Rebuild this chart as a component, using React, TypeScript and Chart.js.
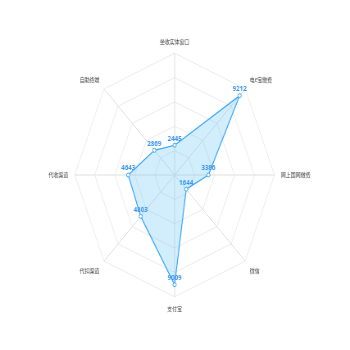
import React, { useEffect, useRef } from "react";
import { Chart, registerables } from "chart.js";

Chart.register(...registerables);

const categories = ["坐收实体窗口", "电e宝缴费", "网上国网缴费", "微信", "支付宝", "代扣渠道", "代收渠道", "自助终端"];
const values = [2445, 9212, 3386, 1644, 9009, 4803, 4643, 2869];
const scaleMin = 0;
const scaleMax = 10000;
const scaleStep = 2000;

const LINE = "#3aa6f7";

const valueLabelPlugin = {
  id: "valueLabels",
  afterDatasetsDraw(chart: any) {
    const ctx = chart.ctx;
    const meta = chart.getDatasetMeta(0);
    ctx.save();
    ctx.font = "bold 7.5px 'Noto Sans', 'DejaVu Sans', sans-serif";
    ctx.fillStyle = "#3b94f2";
    ctx.textAlign = "center";
    ctx.textBaseline = "bottom";
    meta.data.forEach((pt: any, i: number) => {
      ctx.fillText(String(values[i]), pt.x, pt.y - 3);
    });
    ctx.restore();
  },
};

export default function App() {
  const ref = useRef<HTMLCanvasElement | null>(null);
  useEffect(() => {
    if (!ref.current) return;
    const chart = new Chart(ref.current, {
      type: "radar",
      data: {
        labels: categories,
        datasets: [
          {
            data: values,
            borderColor: LINE,
            borderWidth: 1.2,
            backgroundColor: "rgba(90,190,245,0.27)",
            fill: true,
            pointRadius: 2,
            pointBorderWidth: 1,
            pointBackgroundColor: "#ffffff",
            pointBorderColor: LINE,
          },
        ],
      },
      options: {
        responsive: false,
        maintainAspectRatio: false,
        devicePixelRatio: 1,
        animation: false,
        layout: { padding: { top: 38, bottom: 38, left: 10, right: 10 } },
        plugins: { legend: { display: false }, tooltip: { enabled: false } },
        scales: {
          r: {
            min: scaleMin,
            max: scaleMax,
            ticks: { display: false, stepSize: scaleStep },
            grid: { color: "#ebebeb", lineWidth: 1 },
            angleLines: { color: "#dedede", lineWidth: 1 },
            pointLabels: {
              color: "#444444",
              padding: 8,
              font: { size: 6, family: "'Noto Sans CJK SC', sans-serif" },
            },
          },
        },
      },
      plugins: [valueLabelPlugin],
    });
    return () => chart.destroy();
  }, []);
  return (
    <div style={{ position: "fixed", left: 0, top: 0, width: 350, height: 350, background: "#fff" }}>
      <canvas
        ref={ref}
        width={427}
        height={350}
        style={{ width: "350px", height: "350px", display: "block" }}
      />
    </div>
  );
}
